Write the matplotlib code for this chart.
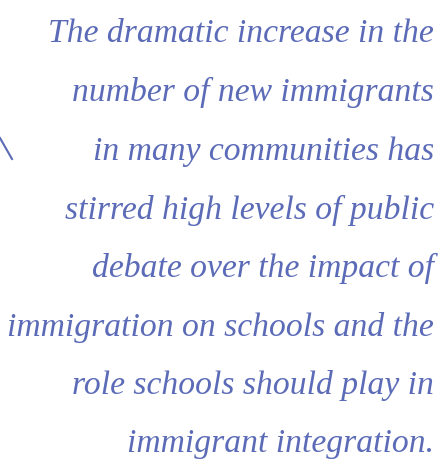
import matplotlib
matplotlib.use("Agg")
import matplotlib.pyplot as plt

lines = [
    "The dramatic increase in the",
    "number of new immigrants",
    "in many communities has",
    "stirred high levels of public",
    "debate over the impact of",
    "immigration on schools and the",
    "role schools should play in",
    "immigrant integration.",
]
baselines_px = [42, 101, 160, 219, 277, 336, 394, 452]
color = "#5b6bb7"

W, H = 442, 461
fig = plt.figure(figsize=(W / 100, H / 100), dpi=100)
fig.patch.set_facecolor("white")

for txt, yb in zip(lines, baselines_px):
    fig.text(434 / W, 1 - yb / H, txt, ha="right", va="baseline",
             fontsize=24.2, family="Liberation Serif", style="italic",
             color=color)

fig.add_artist(plt.Line2D([0 / W, 12 / W], [1 - 138 / H, 1 - 159 / H],
                          color=color, lw=1.5, transform=fig.transFigure))

fig.savefig("out.png", dpi=100, facecolor="white")
